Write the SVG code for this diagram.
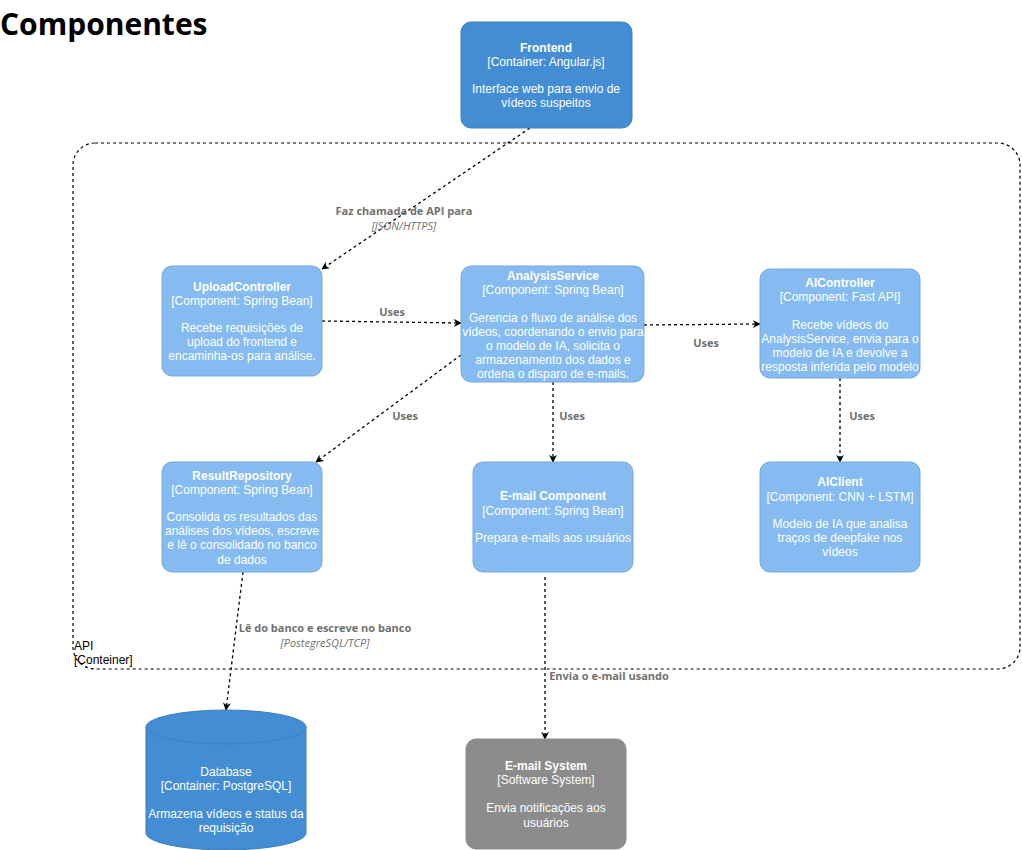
<svg xmlns="http://www.w3.org/2000/svg" width="1022" height="850" viewBox="0 0 1022 850">
<style>
.t{font-family:"Liberation Sans",Arial,sans-serif;font-size:12px;fill:#fff;text-anchor:middle}
.b{font-weight:bold}
.lab{font-family:"Open Sans","Liberation Sans",sans-serif;font-size:11px;font-weight:bold;fill:#707070;text-anchor:middle}
.labi{font-family:"Open Sans","Liberation Sans",sans-serif;font-size:11px;font-style:italic;fill:#707070;text-anchor:middle}
.cont{fill:#438DD5;stroke:#3C7FC0}
.comp{fill:#85BBF0;stroke:#78A8D8}
.ext{fill:#8C8C8C;stroke:#8A8A8A}
.c{fill:none;stroke:#000;stroke-width:1.3;stroke-dasharray:3 3;marker-end:url(#ah)}
</style>
<defs>
<marker id="ah" viewBox="0 0 10 10" refX="9" refY="5" markerWidth="8" markerHeight="8" markerUnits="userSpaceOnUse" orient="auto">
<path d="M0,0 L10,5 L0,10 L3,5 z" fill="#000"/>
</marker>
</defs>
<rect width="1022" height="850" fill="#fff"/>
<text x="0" y="35" font-family="'Open Sans','Liberation Sans',sans-serif" font-size="30" font-weight="bold" fill="#000">Componentes</text>

<g id="api-boundary">
<rect x="73" y="143" width="947" height="526" rx="22" fill="none" stroke="#000" stroke-width="1.2" stroke-dasharray="3 3"/>
<text x="74" y="650" font-family="'Liberation Sans',Arial,sans-serif" font-size="12" fill="#000">API</text>
<text x="74" y="664" font-family="'Liberation Sans',Arial,sans-serif" font-size="12" fill="#000">[Conteiner]</text>
</g>

<g id="connectors">
<path class="c" d="M530,128 L322,269"/>
<path class="c" d="M322,321 L461,323"/>
<path class="c" d="M644,325 L760,324"/>
<path class="c" d="M461,355 L316,462"/>
<path class="c" d="M553,382 L553,462"/>
<path class="c" d="M840,378 L840,462"/>
<path class="c" d="M243,572 L226,710"/>
<path class="c" d="M545,577 L545,739"/>
<text class="lab" x="404" y="215">Faz chamada de API para</text>
<text class="labi" x="404" y="230">[JSON/HTTPS]</text>
<text class="lab" x="392" y="316">Uses</text>
<text class="lab" x="706" y="347">Uses</text>
<text class="lab" x="405" y="420">Uses</text>
<text class="lab" x="572" y="420">Uses</text>
<text class="lab" x="862" y="420">Uses</text>
<text class="lab" x="325" y="632">Lê do banco e escreve no banco</text>
<text class="labi" x="325" y="647">[PostegreSQL/TCP]</text>
<text class="lab" x="609" y="680">Envia o e-mail usando</text>
</g>

<g id="frontend">
<rect class="cont" x="461" y="22" width="171" height="106" rx="10"/>
<text class="t b" x="546" y="52">Frontend</text>
<text class="t" x="546" y="66">[Container: Angular.js]</text>
<text class="t" x="546" y="93">Interface web para envio de</text>
<text class="t" x="546" y="107">vídeos suspeitos</text>
</g>

<g id="upload-controller">
<rect class="comp" x="162" y="266" width="160" height="110" rx="10"/>
<text class="t b" x="242" y="291">UploadController</text>
<text class="t" x="242" y="305">[Component: Spring Bean]</text>
<text class="t" x="242" y="332">Recebe requisições de</text>
<text class="t" x="242" y="346">upload do frontend e</text>
<text class="t" x="242" y="360">encaminha-os para análise.</text>
</g>

<g id="analysis-service">
<rect class="comp" x="461" y="266" width="183" height="116" rx="10"/>
<text class="t b" x="553" y="280">AnalysisService</text>
<text class="t" x="553" y="294">[Component: Spring Bean]</text>
<text class="t" x="553" y="322">Gerencia o fluxo de análise dos</text>
<text class="t" x="553" y="336">vídeos, coordenando o envio para</text>
<text class="t" x="553" y="350">o modelo de IA, solicita o</text>
<text class="t" x="553" y="364">armazenamento dos dados e</text>
<text class="t" x="553" y="378">ordena o disparo de e-mails.</text>
</g>

<g id="ai-controller">
<rect class="comp" x="760" y="269" width="160" height="109" rx="10"/>
<text class="t b" x="840" y="287">AIController</text>
<text class="t" x="840" y="301">[Component: Fast API]</text>
<text class="t" x="840" y="329">Recebe vídeos do</text>
<text class="t" x="840" y="343">AnalysisService, envia para o</text>
<text class="t" x="840" y="357">modelo de IA e devolve a</text>
<text class="t" x="840" y="371">resposta inferida pelo modelo</text>
</g>

<g id="result-repository">
<rect class="comp" x="162" y="462" width="160" height="110" rx="10"/>
<text class="t b" x="242" y="480">ResultRepository</text>
<text class="t" x="242" y="494">[Component: Spring Bean]</text>
<text class="t" x="242" y="521">Consolida os resultados das</text>
<text class="t" x="242" y="535">análises dos vídeos, escreve</text>
<text class="t" x="242" y="549">e lê o consolidado no banco</text>
<text class="t" x="242" y="564">de dados</text>
</g>

<g id="email-component">
<rect class="comp" x="473" y="462" width="160" height="110" rx="10"/>
<text class="t b" x="553" y="500">E-mail Component</text>
<text class="t" x="553" y="515">[Component: Spring Bean]</text>
<text class="t" x="553" y="542">Prepara e-mails aos usuários</text>
</g>

<g id="ai-client">
<rect class="comp" x="760" y="462" width="160" height="110" rx="10"/>
<text class="t b" x="840" y="486">AIClient</text>
<text class="t" x="840" y="501">[Component: CNN + LSTM]</text>
<text class="t" x="840" y="528">Modelo de IA que analisa</text>
<text class="t" x="840" y="542">traços de deepfake nos</text>
<text class="t" x="840" y="556">vídeos</text>
</g>

<g id="database">
<path class="cont" d="M146,727 A80,17 0 0,1 306,727 L306,833 A80,17 0 0,1 146,833 Z"/>
<path d="M146,727 A80,17 0 0,0 306,727" fill="none" stroke="#3C7FC0"/>
<text class="t" x="226" y="776">Database</text>
<text class="t" x="226" y="790">[Container: PostgreSQL]</text>
<text class="t" x="226" y="818">Armazena vídeos e status da</text>
<text class="t" x="226" y="832">requisição</text>
</g>

<g id="email-system">
<rect class="ext" x="466" y="739" width="160" height="110" rx="10"/>
<text class="t b" x="546" y="770">E-mail System</text>
<text class="t" x="546" y="784">[Software System]</text>
<text class="t" x="546" y="812">Envia notificações aos</text>
<text class="t" x="546" y="827">usuários</text>
</g>
</svg>
